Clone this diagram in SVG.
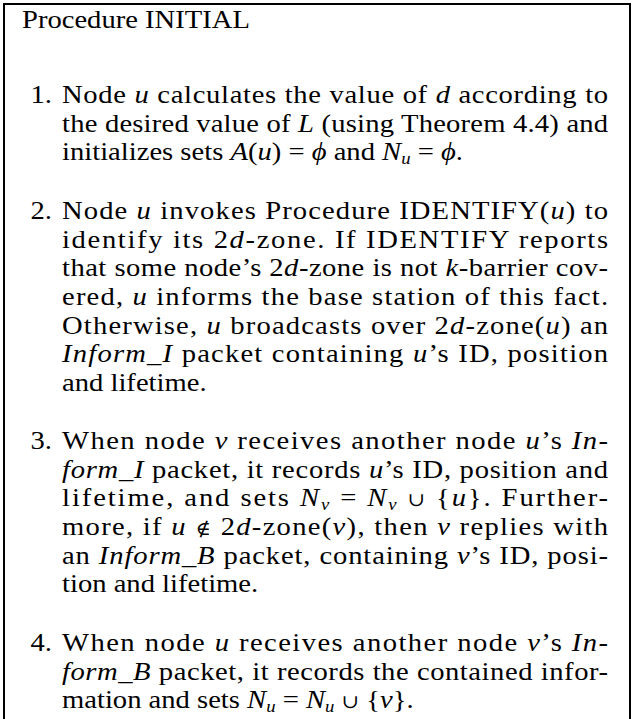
<svg xmlns="http://www.w3.org/2000/svg" width="632" height="719" viewBox="0 0 632 719">
  <style>
    .t { font-family: "Liberation Serif", "Times New Roman", serif; font-size: 26px; fill: #000; }
    .i { font-style: italic; }
    .sub { font-size: 17px; }
    .op { font-family: "DejaVu Serif", serif; font-size: 19px; font-style: normal; }
  </style>
  <rect x="0" y="0" width="632" height="719" fill="#fff"/>
  <!-- framed box; the lower edge continues past the page -->
  <rect id="frame" x="4" y="4" width="626" height="780" fill="none" stroke="#000" stroke-width="2"/>

  <!-- text is widened slightly so the serif face covers the same measure as the typeset original -->
  <g class="t" transform="scale(1.1 1)">
    <text id="title" x="20" y="28">Procedure INITIAL</text>

    <g id="item1">
      <text x="47.3" y="103" text-anchor="end">1.</text>
      <text x="56.4" y="103" textLength="496.4" lengthAdjust="spacing">Node <tspan class="i">u</tspan> calculates the value of <tspan class="i">d</tspan> according to</text>
      <text x="56.4" y="131.7" textLength="496.4" lengthAdjust="spacing">the desired value of <tspan class="i">L</tspan> (using Theorem 4.4) and</text>
      <text x="56.4" y="160.3">initializes sets <tspan class="i">A</tspan>(<tspan class="i">u</tspan>) = <tspan class="i">ϕ</tspan> and <tspan class="i">N</tspan><tspan class="i sub" dy="4">u</tspan><tspan dy="-4"> = </tspan><tspan class="i">ϕ</tspan>.</text>
    </g>

    <g id="item2">
      <text x="47.3" y="219" text-anchor="end">2.</text>
      <text x="56.4" y="219" textLength="496.4" lengthAdjust="spacing">Node <tspan class="i">u</tspan> invokes Procedure IDENTIFY(<tspan class="i">u</tspan>) to</text>
      <text x="56.4" y="247.7" textLength="496.4" lengthAdjust="spacing">identify its 2<tspan class="i">d</tspan>-zone. If IDENTIFY reports</text>
      <text x="56.4" y="276.3" textLength="496.4" lengthAdjust="spacing">that some node’s 2<tspan class="i">d</tspan>-zone is not <tspan class="i">k</tspan>-barrier cov-</text>
      <text x="56.4" y="305" textLength="496.4" lengthAdjust="spacing">ered, <tspan class="i">u</tspan> informs the base station of this fact.</text>
      <text x="56.4" y="333.6" textLength="496.4" lengthAdjust="spacing">Otherwise, <tspan class="i">u</tspan> broadcasts over 2<tspan class="i">d</tspan>-zone(<tspan class="i">u</tspan>) an</text>
      <text x="56.4" y="362.3" textLength="496.4" lengthAdjust="spacing"><tspan class="i">Inform_I</tspan> packet containing <tspan class="i">u</tspan>’s ID, position</text>
      <text x="56.4" y="391">and lifetime.</text>
    </g>

    <g id="item3">
      <text x="47.3" y="449" text-anchor="end">3.</text>
      <text x="56.4" y="449" textLength="496.4" lengthAdjust="spacing">When node <tspan class="i">v</tspan> receives another node <tspan class="i">u</tspan>’s <tspan class="i">In-</tspan></text>
      <text x="56.4" y="477.7" textLength="496.4" lengthAdjust="spacing"><tspan class="i">form_I</tspan> packet, it records <tspan class="i">u</tspan>’s ID, position and</text>
      <text x="56.4" y="506.3" textLength="496.4" lengthAdjust="spacing">lifetime, and sets <tspan class="i">N</tspan><tspan class="i sub" dy="4">v</tspan><tspan dy="-4"> = </tspan><tspan class="i">N</tspan><tspan class="i sub" dy="4">v</tspan><tspan dy="-4"> </tspan><tspan class="op">∪</tspan> {<tspan class="i">u</tspan>}. Further-</text>
      <text x="56.4" y="535" textLength="496.4" lengthAdjust="spacing">more, if <tspan class="i">u</tspan> <tspan class="op">∉</tspan> 2<tspan class="i">d</tspan>-zone(<tspan class="i">v</tspan>), then <tspan class="i">v</tspan> replies with</text>
      <text x="56.4" y="563.6" textLength="496.4" lengthAdjust="spacing">an <tspan class="i">Inform_B</tspan> packet, containing <tspan class="i">v</tspan>’s ID, posi-</text>
      <text x="56.4" y="592.3">tion and lifetime.</text>
    </g>

    <g id="item4">
      <text x="47.3" y="651" text-anchor="end">4.</text>
      <text x="56.4" y="651" textLength="496.4" lengthAdjust="spacing">When node <tspan class="i">u</tspan> receives another node <tspan class="i">v</tspan>’s <tspan class="i">In-</tspan></text>
      <text x="56.4" y="679.7" textLength="496.4" lengthAdjust="spacing"><tspan class="i">form_B</tspan> packet, it records the contained infor-</text>
      <text x="56.4" y="708.3">mation and sets <tspan class="i">N</tspan><tspan class="i sub" dy="4">u</tspan><tspan dy="-4"> = </tspan><tspan class="i">N</tspan><tspan class="i sub" dy="4">u</tspan><tspan dy="-4"> </tspan><tspan class="op">∪</tspan> {<tspan class="i">v</tspan>}.</text>
    </g>
  </g>
</svg>
